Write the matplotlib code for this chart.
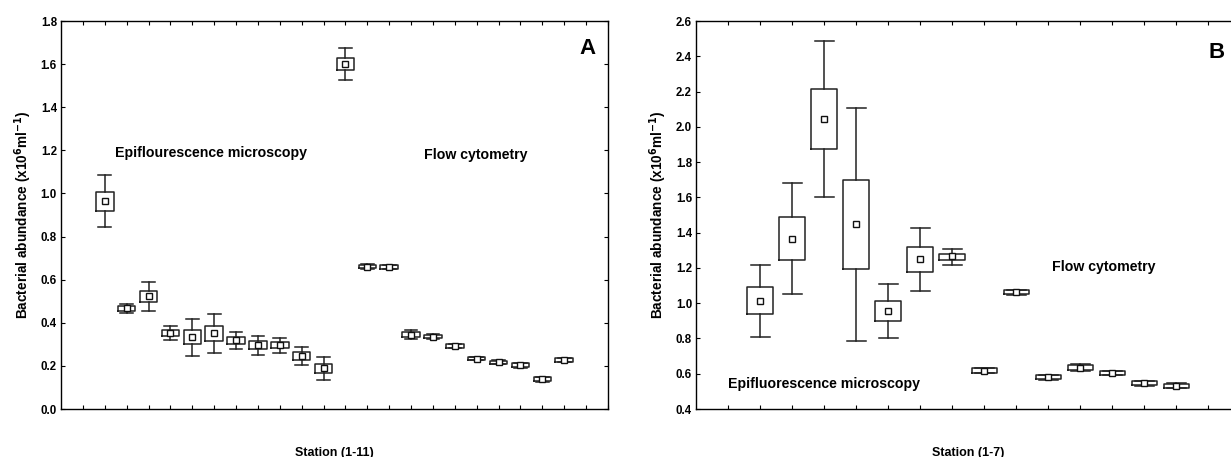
# Bacterial abundance: epifluorescence microscopy vs flow cytometry (panels A and B)

import matplotlib.pyplot as plt

plt.rcParams['font.family'] = ['Liberation Sans', 'DejaVu Sans']
plt.rcParams['font.weight'] = 'bold'

# Panel A - epifluorescence microscopy, stations 1-11
a_epi_mean = [0.966, 0.467, 0.526, 0.354, 0.333, 0.351, 0.319, 0.296, 0.296, 0.246, 0.189]
a_epi_q3 = [1.009, 0.478, 0.549, 0.367, 0.367, 0.385, 0.336, 0.314, 0.310, 0.263, 0.207]
a_epi_q1 = [0.918, 0.455, 0.497, 0.339, 0.300, 0.317, 0.302, 0.277, 0.282, 0.228, 0.169]
a_epi_hi = [1.087, 0.488, 0.591, 0.387, 0.419, 0.440, 0.359, 0.341, 0.330, 0.286, 0.243]
a_epi_lo = [0.844, 0.446, 0.457, 0.320, 0.248, 0.262, 0.279, 0.249, 0.262, 0.203, 0.135]

# Panel A - flow cytometry, stations 1-11
a_flow_mean = [1.602, 0.661, 0.658, 0.345, 0.336, 0.293, 0.234, 0.217, 0.203, 0.138, 0.228]
a_flow_q3 = [1.630, 0.670, 0.666, 0.355, 0.344, 0.301, 0.242, 0.225, 0.212, 0.147, 0.236]
a_flow_q1 = [1.571, 0.652, 0.650, 0.336, 0.328, 0.285, 0.226, 0.209, 0.194, 0.129, 0.220]
a_flow_hi = [1.674, 0.674, 0.668, 0.367, 0.346, 0.303, 0.242, 0.227, 0.214, 0.149, 0.237]
a_flow_lo = [1.527, 0.648, 0.648, 0.325, 0.326, 0.283, 0.226, 0.207, 0.192, 0.127, 0.219]

# Panel B - epifluorescence microscopy, stations 1-7
b_epi_mean = [1.015, 1.363, 2.044, 1.448, 0.958, 1.253, 1.265]
b_epi_q3 = [1.094, 1.486, 2.214, 1.700, 1.015, 1.319, 1.280]
b_epi_q1 = [0.937, 1.246, 1.877, 1.195, 0.899, 1.179, 1.244]
b_epi_hi = [1.217, 1.679, 2.489, 2.108, 1.109, 1.429, 1.310]
b_epi_lo = [0.811, 1.053, 1.603, 0.786, 0.803, 1.068, 1.215]

# Panel B - flow cytometry, stations 1-7
b_flow_mean = [0.618, 1.062, 0.580, 0.635, 0.604, 0.546, 0.532]
b_flow_q3 = [0.630, 1.074, 0.592, 0.647, 0.616, 0.558, 0.544]
b_flow_q1 = [0.606, 1.050, 0.568, 0.623, 0.592, 0.534, 0.520]
b_flow_hi = [0.631, 1.075, 0.593, 0.656, 0.617, 0.559, 0.545]
b_flow_lo = [0.605, 1.049, 0.567, 0.613, 0.591, 0.533, 0.519]


def make_stats(mean, q1, q3, lo, hi):
    stats = []
    for m, a, b, c, d in zip(mean, q1, q3, lo, hi):
        stats.append({'med': m, 'mean': m, 'q1': a, 'q3': b,
                      'whislo': c, 'whishi': d, 'fliers': []})
    return stats


def draw_boxes(ax, stats, positions):
    ax.bxp(stats, positions=positions, widths=0.8, capwidths=0.58,
           showmeans=True, showfliers=False, manage_ticks=False,
           boxprops=dict(color='#222222', linewidth=1.1),
           whiskerprops=dict(color='#222222', linewidth=1.1),
           capprops=dict(color='#222222', linewidth=1.1),
           medianprops=dict(linewidth=0),
           meanprops=dict(marker='s', markerfacecolor='white',
                          markeredgecolor='#111111', markersize=5,
                          markeredgewidth=1.0))


def style_axis(ax, xmax, ylim, ystep, ylabel, xlabel):
    ax.set_xlim(0, xmax)
    ax.set_ylim(*ylim)
    yt = []
    v = ylim[0]
    while v <= ylim[1] + 1e-9:
        yt.append(round(v, 2))
        v += ystep
    ax.set_yticks(yt)
    ax.set_yticklabels(['%.1f' % t for t in yt])
    ax.set_xticks(range(1, int(xmax) + 1))
    ax.set_xticklabels([])
    ax.tick_params(direction='in', length=3, width=0.8, top=True, right=True,
                   labelsize=8.3, pad=3)
    for s in ax.spines.values():
        s.set_linewidth(1.0)
    ax.set_ylabel(ylabel, fontsize=9.8, fontweight='bold', labelpad=5)
    ax.set_xlabel(xlabel, fontsize=9, fontweight='bold', labelpad=24)


ylab = 'Bacterial abundance (x10$^{\\mathbf{6}}$ml$^{\\mathbf{-1}}$)'

fig = plt.figure(figsize=(12.31, 4.57), dpi=100)
axA = fig.add_axes([0.0496, 0.105, 0.4443, 0.849])
axB = fig.add_axes([0.5656, 0.105, 0.4420, 0.849])

# Panel A
draw_boxes(axA, make_stats(a_epi_mean, a_epi_q1, a_epi_q3, a_epi_lo, a_epi_hi), range(2, 13))
draw_boxes(axA, make_stats(a_flow_mean, a_flow_q1, a_flow_q3, a_flow_lo, a_flow_hi), range(13, 24))
style_axis(axA, 25, (0.0, 1.8), 0.2, ylab, 'Station (1-11)')
axA.text(2.45, 1.187, 'Epiflourescence microscopy', fontsize=10.2, fontweight='bold', va='center')
axA.text(16.6, 1.18, 'Flow cytometry', fontsize=10.2, fontweight='bold', va='center')
axA.text(0.977, 0.93, 'A', transform=axA.transAxes, fontsize=16, fontweight='bold',
         ha='right', va='center')

# Panel B
draw_boxes(axB, make_stats(b_epi_mean, b_epi_q1, b_epi_q3, b_epi_lo, b_epi_hi), range(2, 9))
draw_boxes(axB, make_stats(b_flow_mean, b_flow_q1, b_flow_q3, b_flow_lo, b_flow_hi), range(9, 16))
style_axis(axB, 17, (0.4, 2.6), 0.2, ylab, 'Station (1-7)')
axB.text(1.0, 0.542, 'Epifluorescence microscopy', fontsize=10.2, fontweight='bold', va='center')
axB.text(11.1, 1.208, 'Flow cytometry', fontsize=10.2, fontweight='bold', va='center')
axB.text(16.26, 2.42, 'B', fontsize=16, fontweight='bold', ha='center', va='center')

fig.savefig('out.png', dpi=100)
